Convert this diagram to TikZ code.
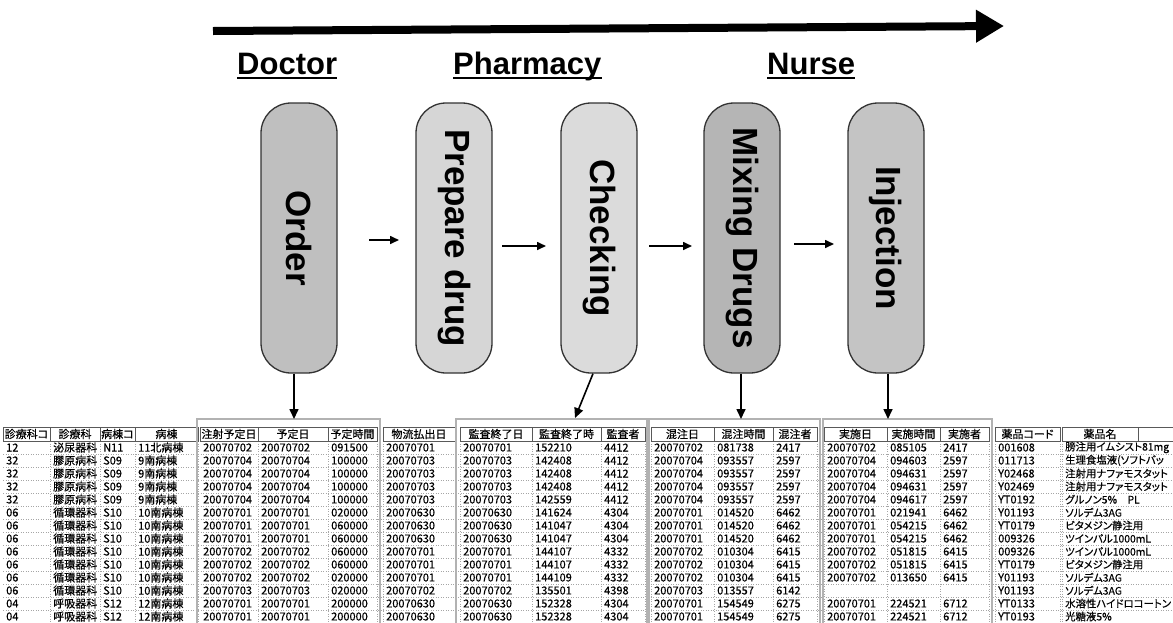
\documentclass[tikz,border=0pt]{standalone}
\usepackage{fontspec}
\setmainfont{Liberation Sans}
\newfontface\jp[RawFeature={+palt},FakeBold=0.4]{Noto Sans CJK JP}
\usetikzlibrary{arrows.meta}

\def\colL{{3,50,100,135,200,258,328,383,460,532,601,651,714,773,824,887,940,995,1062}}
\def\colR{{50,100,135,198,258,328,377,455,532,601,645,714,773,817,887,940,989,1060,1138}}

\newcommand\tblrow[2]{%
  \foreach \v [count=\c from 0] in {#2} {
    \pgfmathsetmacro\xl{\colL[\c]+3}
    \ifnum\c=18
      \node[cell, font=\jp\fontsize{10.4}{10.4}\selectfont] (r#1c\c) at (\xl,{441+13*(#1-0.5)}) {\v};
    \else
      \node[cell] (r#1c\c) at (\xl,{441+13*(#1-0.5)}) {\v};
    \fi
  }}

\begin{document}
\begin{tikzpicture}[x=1pt,y=-1pt,
  stage/.style={draw=black!80, line width=1.3pt, rounded corners=30pt,
    minimum width=76pt, minimum height=270pt, inner sep=0pt,
    font=\fontsize{35}{35}\selectfont\bfseries},
  role/.style={font=\fontsize{31}{31}\selectfont\bfseries, inner sep=0pt, anchor=base west},
  uline/.style={line width=2pt},
  timeline/.style={line width=8pt, -{Triangle[length=28pt,width=31pt]}},
  flow/.style={line width=1.6pt, -{Triangle[length=9pt,width=8pt]}},
  down/.style={line width=1.6pt, -{Triangle[length=10pt,width=9pt]}},
  cell/.style={font=\jp\fontsize{11}{11}\selectfont, inner sep=0pt, anchor=west},
  headtext/.style={font=\jp\fontsize{11}{11}\selectfont, inner sep=0pt},
  headframe/.style={draw=black!65, line width=0.8pt},
  grid/.style={draw=black!35, dotted, line width=0.5pt},
  grp/.style={draw=black!30, line width=2.5pt},
]
\useasboundingbox[fill=white] (0,0) rectangle (1173,622);

% ---- timeline arrow
\coordinate (tl0) at (213,31);
\coordinate (tl1) at (1004,26);
\draw[timeline] (tl0) -- (tl1);

% ---- roles
\node[role] (doc) at (237,74) {Doctor};
\draw[uline] ([yshift=-4pt]doc.base west) -- ([yshift=-4pt]doc.base east);
\node[role] (pha) at (453,74) {Pharmacy};
\draw[uline] ([yshift=-4pt]pha.base west) -- ([yshift=-4pt]pha.base east);
\node[role] (nur) at (767,74) {Nurse};
\draw[uline] ([yshift=-4pt]nur.base west) -- ([yshift=-4pt]nur.base east);

% ---- stages
\node[stage, fill=black!25] (order) at (299,238) {\rotatebox{-90}{Order}};
\node[stage, fill=black!16] (prep) at (454,238) {\rotatebox{-90}{Prepare drug}};
\node[stage, fill=black!14] (check) at (599,238) {\rotatebox{-90}{Checking}};
\node[stage, fill=black!29] (mix) at (742,238) {\rotatebox{-90}{Mixing Drugs}};
\node[stage, fill=black!23] (inj) at (886,238) {\rotatebox{-90}{Injection}};

% ---- flow arrows
\coordinate (f1a) at (369,240); \coordinate (f1b) at (399,240);
\coordinate (f2a) at (502,246); \coordinate (f2b) at (546,246);
\coordinate (f3a) at (649,246); \coordinate (f3b) at (692,246);
\coordinate (f4a) at (794,244); \coordinate (f4b) at (834,244);
\draw[flow] (f1a) -- (f1b);
\draw[flow] (f2a) -- (f2b);
\draw[flow] (f3a) -- (f3b);
\draw[flow] (f4a) -- (f4b);

% ---- table grid
\foreach \k in {1,...,14} \draw[grid] (3,{441+13*\k}) -- (1173,{441+13*\k});
\foreach \xx in {50,100,135,198,258,328,377,383,455,460,532,601,645,651,714,773,817,824,887,940,989,995,1060,1062}
  \draw[grid] (\xx,441) -- (\xx,622);

% ---- header
\foreach \h [count=\c from 0] in {診療科コ,診療科,病棟コ,病棟,注射予定日,予定日,予定時間,物流払出日,監査終了日,監査終了時,監査者,混注日,混注時間,混注者,実施日,実施時間,実施者,薬品コード,薬品名} {
  \pgfmathsetmacro\xl{\colL[\c]}
  \pgfmathsetmacro\xr{\colR[\c]}
  \draw[headframe] (\xl,427) rectangle (\xr,441);
  \node[headtext] (h\c) at ({(\xl+\xr)/2},434) {\h};
}
\draw[headframe] (1138,427) -- (1173,427);
\draw[headframe] (1138,441) -- (1173,441);

% ---- group boxes
\draw[grp] (197,419) rectangle (380,640);
\draw[grp] (456,419) rectangle (647,640);
\draw[grp] (649,419) rectangle (820,640);
\draw[grp] (823,419) rectangle (992,640);

% ---- rows
\tblrow{1}{12,泌尿器科,N11,11北病棟,20070702,20070702,091500,20070701,20070701,152210,4412,20070702,081738,2417,20070702,085105,2417,001608,膀注用イムシスト81mg}
\tblrow{2}{32,膠原病科,S09,9南病棟,20070704,20070704,100000,20070703,20070703,142408,4412,20070704,093557,2597,20070704,094603,2597,011713,生理食塩液(ソフトバッ}
\tblrow{3}{32,膠原病科,S09,9南病棟,20070704,20070704,100000,20070703,20070703,142408,4412,20070704,093557,2597,20070704,094631,2597,Y02468,注射用ナファモスタット}
\tblrow{4}{32,膠原病科,S09,9南病棟,20070704,20070704,100000,20070703,20070703,142408,4412,20070704,093557,2597,20070704,094631,2597,Y02469,注射用ナファモスタット}
\tblrow{5}{32,膠原病科,S09,9南病棟,20070704,20070704,100000,20070703,20070703,142559,4412,20070704,093557,2597,20070704,094617,2597,YT0192,グルノン5\%　PL}
\tblrow{6}{06,循環器科,S10,10南病棟,20070701,20070701,020000,20070630,20070630,141624,4304,20070701,014520,6462,20070701,021941,6462,Y01193,ソルデム3AG}
\tblrow{7}{06,循環器科,S10,10南病棟,20070701,20070701,060000,20070630,20070630,141047,4304,20070701,014520,6462,20070701,054215,6462,YT0179,ビタメジン静注用}
\tblrow{8}{06,循環器科,S10,10南病棟,20070701,20070701,060000,20070630,20070630,141047,4304,20070701,014520,6462,20070701,054215,6462,009326,ツインパル1000mL}
\tblrow{9}{06,循環器科,S10,10南病棟,20070702,20070702,060000,20070701,20070701,144107,4332,20070702,010304,6415,20070702,051815,6415,009326,ツインパル1000mL}
\tblrow{10}{06,循環器科,S10,10南病棟,20070702,20070702,060000,20070701,20070701,144107,4332,20070702,010304,6415,20070702,051815,6415,YT0179,ビタメジン静注用}
\tblrow{11}{06,循環器科,S10,10南病棟,20070702,20070702,020000,20070701,20070701,144109,4332,20070702,010304,6415,20070702,013650,6415,Y01193,ソルデム3AG}
\tblrow{12}{06,循環器科,S10,10南病棟,20070703,20070703,020000,20070702,20070702,135501,4398,20070703,013557,6142,{},{},{},Y01193,ソルデム3AG}
\tblrow{13}{04,呼吸器科,S12,12南病棟,20070701,20070701,200000,20070630,20070630,152328,4304,20070701,154549,6275,20070701,224521,6712,YT0133,水溶性ハイドロコートン}
\tblrow{14}{04,呼吸器科,S12,12南病棟,20070701,20070701,200000,20070630,20070630,152328,4304,20070701,154549,6275,20070701,224521,6712,YT0193,光糖液5\%}

% ---- down arrows to the table
\coordinate (d1) at (294,419);
\coordinate (d2) at (575,418);
\coordinate (d3) at (741,419);
\coordinate (d4) at (888,419);
\draw[down] (order.south -| d1) -- (d1);
\draw[down] ([xshift=-6pt]check.south) -- (d2);
\draw[down] (mix.south -| d3) -- (d3);
\draw[down] (inj.south -| d4) -- (d4);
\end{tikzpicture}
\end{document}
